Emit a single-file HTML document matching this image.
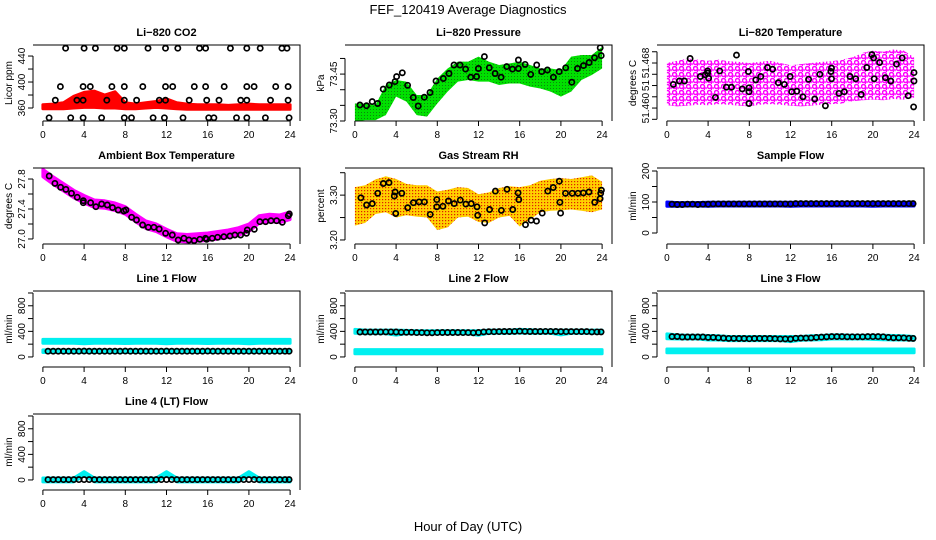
<!DOCTYPE html>
<html><head><meta charset="utf-8"><style>
html,body{margin:0;padding:0;background:#fff;}
svg{display:block;font-family:"Liberation Sans",Arial,sans-serif;}
</style></head><body>
<svg id="chart" width="936" height="540" viewBox="0 0 936 540" xmlns="http://www.w3.org/2000/svg">
<defs>
<pattern id="rhpat" width="3" height="3" patternUnits="userSpaceOnUse"><rect width="3" height="3" fill="#ffd000"/><rect x="1" y="1" width="1.2" height="1.2" fill="#e02000"/></pattern>
<pattern id="grpat" width="3" height="3" patternUnits="userSpaceOnUse"><rect width="3" height="3" fill="#00e000"/><rect x="1" y="1" width="0.9" height="0.9" fill="#107010"/></pattern>
<pattern id="mgpat" width="7" height="6" patternUnits="userSpaceOnUse"><circle cx="2.5" cy="2.5" r="2" fill="none" stroke="#ff00ff" stroke-width="1.5"/><circle cx="6" cy="5.5" r="1.6" fill="none" stroke="#ff00ff" stroke-width="1.3"/></pattern>
</defs>
<text x="468" y="14" text-anchor="middle" font-size="13">FEF_120419  Average Diagnostics</text>
<text x="468" y="531" text-anchor="middle" font-size="13">Hour of Day (UTC)</text>
</svg>
<script>
// ---------- shared ----------
const xTicks = [0,4,8,12,16,20,24];
const bandHours = [0,1,2,3,4,5,6,7,8,9,10,11,12,13,14,15,16,17,18,19,20,21,22,23,24];
const flowT = [0.5,1,1.5,2,2.5,3,3.5,4,4.5,5,5.5,6,6.5,7,7.5,8,8.5,9,9.5,10,10.5,11,11.5,12,12.5,13,13.5,14,14.5,15,15.5,16,16.5,17,17.5,18,18.5,19,19.5,20,20.5,21,21.5,22,22.5,23,23.5,23.9];

// ---------- CO2 ----------
const co2Low  = [359,359,359,360,361,361,360,360,359,359,360,361,360,359,358,358,358,358,358,358,358,358,358,358,358];
const co2High = [365,366,368,378,384,386,380,385,368,366,368,370,374,368,366,365,365,365,364,365,366,365,365,365,365];
const co2T = [2.2,4.0,5.1,7.2,7.9,10.2,11.9,13.1,15.2,15.8,18.2,19.8,21.1,23.2,23.7,
  1.7,3.9,4.6,6.7,7.9,9.7,11.9,12.6,14.7,15.8,17.6,19.8,20.5,22.6,23.8,
  1.2,3.3,3.9,6.2,7.9,9.1,11.3,11.9,14.2,15.9,17.1,19.2,19.8,22.1,23.8,
  0.6,2.7,3.9,5.7,7.9,8.6,10.7,11.8,13.6,16.1,16.6,18.8,19.8,21.6,23.9];
const co2V = [452,452,452,452,452,452,452,452,452,452,452,452,452,452,452,
  393,393,393,393,393,393,393,393,393,393,393,393,393,393,393,
  372,372,372,372,372,372,372,372,372,372,372,372,372,372,372,
  345,345,345,345,345,345,345,345,345,345,345,345,345,345,345];

// ---------- Pressure ----------
const presLow  = [73.298,73.303,73.303,73.319,73.378,73.362,73.319,73.314,73.356,73.394,73.426,73.431,73.426,73.426,73.415,73.420,73.420,73.410,73.404,73.394,73.378,73.394,73.431,73.447,73.468];
const presHigh = [73.356,73.356,73.351,73.415,73.431,73.426,73.383,73.383,73.436,73.468,73.490,73.490,73.506,73.490,73.479,73.484,73.490,73.479,73.468,73.468,73.463,73.506,73.511,73.511,73.537];
const presT = [0.49,1.13,1.68,2.20,2.75,3.34,3.89,4.05,4.60,5.12,5.67,6.15,6.74,7.29,7.87,8.58,9.14,9.62,10.20,10.75,11.24,11.82,11.99,12.57,13.05,13.61,14.19,14.74,15.29,15.87,15.87,16.52,17.07,17.65,18.14,18.69,19.27,19.83,20.47,21.06,21.61,22.19,22.74,23.26,23.81,23.91];
const presV = [73.351,73.349,73.362,73.356,73.402,73.415,73.426,73.442,73.454,73.414,73.375,73.348,73.376,73.391,73.428,73.436,73.452,73.479,73.479,73.466,73.440,73.442,73.468,73.506,73.470,73.452,73.440,73.474,73.466,73.495,73.468,73.481,73.449,73.479,73.458,73.463,73.440,73.458,73.470,73.424,73.468,73.477,73.487,73.502,73.534,73.509];

// ---------- Li-820 Temperature ----------
const tempLow  = [51.4605,51.4603,51.4604,51.4606,51.4605,51.4607,51.4606,51.4604,51.4603,51.4606,51.4607,51.4606,51.4604,51.4603,51.4604,51.4606,51.4607,51.4608,51.4612,51.4614,51.4615,51.4614,51.4616,51.4615,51.4618];
const tempHigh = [51.4680,51.4684,51.4688,51.4686,51.4684,51.4686,51.4683,51.4682,51.4680,51.4682,51.4684,51.4680,51.4676,51.4678,51.4680,51.4682,51.4683,51.4686,51.4690,51.4698,51.4702,51.4700,51.4704,51.4702,51.4690];
const tempT = [0.62,1.21,1.70,2.25,3.24,3.73,3.95,4.05,3.95,4.71,5.13,5.78,6.27,6.76,7.32,7.91,7.97,7.97,7.97,8.63,9.12,9.77,10.26,10.82,11.41,11.96,12.12,12.61,13.20,13.76,14.35,14.84,15.39,15.98,15.98,15.92,16.70,17.22,17.78,18.33,18.86,19.41,19.90,20.07,20.13,20.65,21.21,21.73,22.29,22.84,23.43,23.99,23.99,23.95];
const tempV = [51.4642,51.4648,51.4648,51.4688,51.4656,51.4659,51.4662,51.4653,51.4666,51.4619,51.4666,51.4637,51.4637,51.4694,51.4634,51.4665,51.4636,51.4629,51.4608,51.4650,51.4656,51.4672,51.4669,51.4645,51.4642,51.4656,51.4629,51.4630,51.4620,51.4651,51.4616,51.4660,51.4604,51.4652,51.4671,51.4665,51.4626,51.4629,51.4656,51.4652,51.4624,51.4672,51.4695,51.4689,51.4652,51.4681,51.4654,51.4648,51.4678,51.4689,51.4622,51.4663,51.4648,51.4602];

// ---------- Ambient Box Temperature ----------
const ambCenter = [27.88,27.78,27.69,27.60,27.53,27.47,27.46,27.43,27.38,27.28,27.19,27.15,27.08,27.02,27.01,27.02,27.03,27.05,27.07,27.10,27.15,27.26,27.28,27.27,27.31];
const ambHalfWidth = [0.05];
const ambT = [0.61,1.17,1.72,2.23,2.78,3.33,3.92,3.92,4.63,5.15,5.70,6.25,6.76,7.31,7.86,8.06,8.61,9.09,9.68,10.23,10.78,11.29,11.91,12.56,13.14,13.69,14.17,14.69,15.24,15.79,15.89,16.44,16.96,17.57,18.16,18.64,19.19,19.77,19.84,20.52,21.07,21.62,22.14,22.69,23.24,23.82,23.92];
const ambV = [27.840,27.742,27.689,27.662,27.609,27.556,27.511,27.484,27.484,27.431,27.467,27.453,27.418,27.387,27.373,27.387,27.289,27.253,27.187,27.156,27.156,27.133,27.076,27.053,26.987,27.009,26.987,26.978,26.996,27.009,26.996,27.009,27.022,27.031,27.040,27.053,27.053,27.076,27.120,27.129,27.231,27.231,27.244,27.244,27.222,27.311,27.333];

// ---------- Gas Stream RH ----------
const rhLow  = [3.232,3.238,3.258,3.262,3.250,3.255,3.252,3.250,3.222,3.228,3.250,3.252,3.240,3.238,3.250,3.254,3.230,3.245,3.262,3.265,3.266,3.268,3.265,3.262,3.268];
const rhHigh = [3.318,3.322,3.335,3.342,3.336,3.325,3.322,3.322,3.308,3.312,3.318,3.316,3.302,3.306,3.316,3.320,3.318,3.322,3.332,3.336,3.338,3.336,3.340,3.344,3.330];
const rhT = [0.58,1.14,1.69,2.21,2.76,3.31,3.83,3.90,3.96,4.55,5.13,5.68,6.23,6.75,7.31,7.95,7.95,8.54,9.09,9.64,10.23,10.78,11.30,11.85,11.92,12.60,13.08,13.64,14.22,14.77,15.32,15.84,15.91,16.56,17.11,17.63,18.18,18.73,19.25,19.84,19.90,19.97,20.45,21.10,21.66,22.18,22.73,23.28,23.80,23.86,23.93];
const rhV = [3.294,3.278,3.281,3.304,3.326,3.328,3.298,3.307,3.259,3.304,3.272,3.283,3.285,3.285,3.257,3.290,3.274,3.275,3.287,3.281,3.289,3.280,3.281,3.274,3.255,3.238,3.268,3.309,3.266,3.313,3.268,3.305,3.290,3.234,3.244,3.242,3.260,3.309,3.317,3.331,3.284,3.260,3.304,3.304,3.304,3.305,3.307,3.284,3.292,3.304,3.311];

// ---------- Flows (ml/min) ----------
const sampleLow  = [86,86,87,87,86,87,87,87,87,87,87,87,86,87,87,87,87,87,87,87,86,87,87,87,87];
const sampleHigh = [100,98,98,98,99,99,99,99,99,99,99,99,99,99,99,99,99,99,99,99,99,99,99,99,99];
const sampleV = [93,92,92,93,93,92,93,93,94,94,94,94,94,94,94,94,94,94,94,94,94,94,94,94,95,95,95,95,95,95,95,95,95,95,95,95,95,95,95,95,95,95,95,95,95,95,95,95];
const line1CyanLow  = [215,215,215,215,205,215,215,215,210,215,215,215,205,215,215,215,210,215,215,215,205,215,215,215,215];
const line1CyanHigh = [275,275,275,275,275,275,275,275,275,275,275,275,275,275,275,275,275,275,275,275,275,275,275,275,275];
const line1CyanLow2  = [70,70,70,70,70,70,70,70,70,70,70,70,70,70,70,70,70,70,70,70,70,70,70,70,70];
const line1CyanHigh2 = [110,110,110,110,110,110,110,110,110,110,110,110,110,110,110,110,110,110,110,110,110,110,110,110,110];
const line1V = [90,90,90,90,90,90,90,92,90,90,90,90,90,90,90,92,90,90,90,90,90,90,90,92,90,90,90,90,90,90,90,92,90,90,90,90,90,90,90,90,90,90,90,90,90,90,90,90];
const line2CyanLow  = [50,50,50,50,50,50,50,50,50,50,50,50,50,50,50,50,50,50,50,50,50,50,50,50,50];
const line2CyanHigh = [115,115,115,115,115,115,115,115,115,115,115,115,115,115,115,115,115,115,115,115,115,115,115,115,115];
const line2TopLow  = [370,365,365,365,340,365,360,360,360,360,360,360,340,370,370,370,375,370,370,370,345,370,370,370,370];
const line2TopHigh = [430,420,420,420,420,415,410,410,410,410,410,410,410,420,420,420,430,425,420,420,420,420,420,420,420];
const line2V = [390,390,390,390,390,392,392,390,385,385,385,380,380,378,378,380,382,382,382,382,380,380,378,382,392,395,395,397,398,398,400,402,400,398,398,398,400,400,398,396,396,396,396,396,396,392,392,392];
const line3CyanLow  = [65,65,65,65,65,65,65,65,65,65,65,65,65,65,65,65,65,65,65,65,65,65,65,65,65];
const line3CyanHigh = [125,125,125,125,125,125,125,125,125,125,125,125,125,125,125,125,125,125,125,125,125,125,125,125,125];
const line3TopLow  = [285,280,280,280,265,265,255,255,255,255,255,255,240,260,265,270,280,280,280,280,275,270,265,265,260];
const line3TopHigh = [360,345,340,340,335,330,320,320,320,320,320,320,320,320,330,335,345,345,340,340,340,340,335,330,320];
const line3V = [318,320,312,312,312,312,312,305,305,300,295,290,290,288,288,285,288,290,288,288,285,282,282,280,292,295,295,298,305,310,315,318,318,318,315,315,315,315,318,318,318,315,305,300,300,298,292,290];
const line4Cyan = [0,0,0,0,100,0,0,0,0,0,0,0,100,0,0,0,0,0,0,0,100,0,0,0,0];
const line4V = [5,5,5,5,5,5,5,5,5,5,5,5,5,5,5,5,5,5,5,5,5,5,5,5,5,5,5,5,5,5,5,5,5,5,5,5,5,5,5,5,5,5,5,5,5,5,5,5];

// ---------- axes setup ----------
const flowTicks = [0,200,400,600,800,1000];
const flowTickLabels = ['0','','400','','800',''];

const svg = document.getElementById('chart');
const NS = 'http://www.w3.org/2000/svg';
const colLeft = [33,345,657], rowTop = [45,168,291,414], PW = 267, PH = 76;

function el(tag, attrs, parent) {
  const e = document.createElementNS(NS, tag);
  for (const k in attrs) e.setAttribute(k, attrs[k]);
  (parent || svg).appendChild(e);
  return e;
}

const panels = [
 {key:'co2', title:'Li\u2212820 CO2', ylab:'Licor ppm', col:0,row:0, ylim:[340,457], ticks:[360,380,400,420,440], labels:['360','','400','','440'],
  bands:[[co2Low,co2High,'#ff0000']], pts:[[co2T,co2V]]},
 {key:'pressure', title:'Li\u2212820 Pressure', ylab:'kPa', col:1,row:0, ylim:[73.30,73.543], ticks:[73.30,73.35,73.40,73.45,73.50], labels:['73.30','','','73.45',''],
  bands:[[presLow,presHigh,'url(#grpat)']], pts:[[presT,presV]]},
 {key:'temperature', title:'Li\u2212820 Temperature', ylab:'degrees C', col:2,row:0, ylim:[51.4577,51.4712], ticks:[51.458,51.460,51.462,51.464,51.466,51.468,51.470], labels:['','51.460','','51','','51.468',''],
  bands:[[tempLow,tempHigh,'url(#mgpat)']], pts:[[tempT,tempV]]},
 {key:'ambient', title:'Ambient Box Temperature', ylab:'degrees C', col:0,row:1, ylim:[26.933,27.947], ticks:[27.0,27.2,27.4,27.6,27.8], labels:['27.0','','27.4','','27.8'],
  bands:[[ambCenter.map(v=>v-ambHalfWidth[0]),ambCenter.map(v=>v+ambHalfWidth[0]),'#ff00ff']], pts:[[ambT,ambV]]},
 {key:'rh', title:'Gas Stream RH', ylab:'percent', col:1,row:1, ylim:[3.191,3.3605], ticks:[3.20,3.25,3.30,3.35], labels:['3.20','','3.30',''],
  bands:[[rhLow,rhHigh,'url(#rhpat)']], pts:[[rhT,rhV]]},
 {key:'sample-flow', title:'Sample Flow', ylab:'ml/min', col:2,row:1, ylim:[-35.5,209.7], ticks:[0,50,100,150,200], labels:['0','','100','','200'],
  bands:[[sampleLow,sampleHigh,'#0000ff']], pts:[[flowT,sampleV]]},
 {key:'line1-flow', title:'Line 1 Flow', ylab:'ml/min', col:0,row:2, ylim:[-157,1031], ticks:flowTicks, labels:flowTickLabels,
  bands:[[line1CyanLow,line1CyanHigh,'#00f0f0'],[line1CyanLow2,line1CyanHigh2,'#00f0f0']], pts:[[flowT,line1V]]},
 {key:'line2-flow', title:'Line 2 Flow', ylab:'ml/min', col:1,row:2, ylim:[-157,1031], ticks:flowTicks, labels:flowTickLabels,
  bands:[[line2CyanLow,line2CyanHigh,'#00f0f0'],[line2TopLow,line2TopHigh,'#00f0f0']], pts:[[flowT,line2V]]},
 {key:'line3-flow', title:'Line 3 Flow', ylab:'ml/min', col:2,row:2, ylim:[-157,1031], ticks:flowTicks, labels:flowTickLabels,
  bands:[[line3CyanLow,line3CyanHigh,'#00f0f0'],[line3TopLow,line3TopHigh,'#00f0f0']], pts:[[flowT,line3V]]},
 {key:'line4-flow', title:'Line 4 (LT) Flow', ylab:'ml/min', col:0,row:3, ylim:[-157,1031], ticks:flowTicks, labels:flowTickLabels,
  bands:[[line4Cyan.map(v=>v-30),line4Cyan.map(v=>v+30),'#00f0f0']], pts:[[flowT,line4V]]}
];

panels.forEach(p => {
  const L = colLeft[p.col], T = rowTop[p.row], R = L + PW, B = T + PH;
  const xs = t => L + (t + 0.96) / 25.92 * PW;
  const ys = v => B - (v - p.ylim[0]) / (p.ylim[1] - p.ylim[0]) * PH;
  const g = el('g', {});
  
  
  const clipId = 'clip-' + p.key;
  const cp = el('clipPath', {id: clipId}, g);
  el('rect', {x:L, y:T, width:PW, height:PH}, cp);

  const title = el('text', {x:(L+R)/2, y:T-9, 'text-anchor':'middle', 'font-size':'11', 'font-weight':'bold'}, g);
  title.textContent = p.title;
  
  

  const data = el('g', {'clip-path':'url(#' + clipId + ')'}, g);
  p.bands.forEach((b, bi) => {
    const lo = b[0], hi = b[1];
    let d = '';
    bandHours.forEach((h, i) => { d += (i ? 'L' : 'M') + xs(h).toFixed(1) + ',' + ys(hi[i]).toFixed(1); });
    for (let i = bandHours.length - 1; i >= 0; i--) d += 'L' + xs(bandHours[i]).toFixed(1) + ',' + ys(lo[i]).toFixed(1);
    d += 'Z';
    const path = el('path', {d:d, fill:b[2], stroke:b[2].startsWith('url') ? 'none' : b[2], 'stroke-width':'3', 'stroke-linejoin':'round'}, data);
    
    
  });
  p.pts.forEach(s => {
    const ts = s[0], vs = s[1];
    ts.forEach((t, i) => {
      const c = el('circle', {cx:xs(t).toFixed(1), cy:ys(vs[i]).toFixed(1), r:'2.6', fill:'none', stroke:'#000', 'stroke-width':'1.7'}, data);
      
      
    });
  });

  el('polyline', {points:`${L},${T} ${R},${T} ${R},${B}`, fill:'none', stroke:'#000', 'stroke-width':'1'}, g);

  const xa = el('g', {}, g);
  
  
  el('line', {x1:xs(xTicks[0]), x2:xs(xTicks[xTicks.length-1]), y1:B, y2:B, stroke:'#000'}, xa);
  xTicks.forEach(t => {
    el('line', {x1:xs(t), x2:xs(t), y1:B, y2:B+5, stroke:'#000'}, xa);
    const tx = el('text', {x:xs(t), y:B+17, 'text-anchor':'middle', 'font-size':'10'}, xa);
    tx.textContent = t;
  });

  const ya = el('g', {}, g);
  
  
  el('line', {x1:L, x2:L, y1:ys(p.ticks[0]), y2:ys(p.ticks[p.ticks.length-1]), stroke:'#000'}, ya);
  p.ticks.forEach((v, i) => {
    const y = ys(v);
    el('line', {x1:L-5, x2:L, y1:y, y2:y, stroke:'#000'}, ya);
    if (p.labels[i]) {
      const tx = el('text', {x:0, y:0, 'text-anchor':'middle', 'font-size':'10', transform:`translate(${L-8},${y}) rotate(-90)`}, ya);
      tx.textContent = p.labels[i];
    }
  });
  const yl = el('text', {x:0, y:0, 'text-anchor':'middle', 'font-size':'10', transform:`translate(${L-21},${(T+B)/2}) rotate(-90)`}, g);
  yl.textContent = p.ylab;
  
  
});
</script>
</body></html>
